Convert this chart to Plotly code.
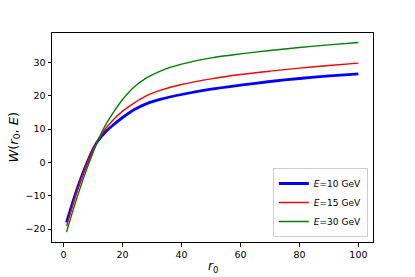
import plotly.graph_objects as go

r0 = [1, 2, 4, 6, 8, 10, 11.3, 14, 17, 20, 24, 28, 33, 40, 50, 60, 70, 80, 90, 100]
W_10 = [-18.0, -15.0, -9.4, -4.4, 0.1, 4.0, 6.1, 9.0, 11.4, 13.5, 15.9, 17.6, 19.0, 20.4, 22.0, 23.2, 24.3, 25.2, 26.0, 26.6]
W_15 = [-19.1, -16.0, -10.2, -4.9, -0.1, 3.8, 6.1, 9.9, 13.0, 15.4, 17.9, 20.0, 21.7, 23.4, 25.1, 26.4, 27.4, 28.3, 29.1, 29.8]
W_30 = [-20.9, -17.8, -12.0, -6.6, -1.6, 3.0, 5.9, 10.9, 15.2, 18.9, 22.7, 25.3, 27.5, 29.5, 31.4, 32.6, 33.6, 34.5, 35.3, 36.0]

labels = ["<i>E</i>=10 GeV", "<i>E</i>=15 GeV", "<i>E</i>=30 GeV"]
colors = ["blue", "red", "green"]
widths = [2.8, 1.4, 1.4]
series = [W_10, W_15, W_30]

x_ticks = [0, 20, 40, 60, 80, 100]
y_ticks = [-20, -10, 0, 10, 20, 30]

fig = go.Figure()
for ys, lab, c, w in zip(series, labels, colors, widths):
    fig.add_trace(go.Scatter(x=r0, y=ys, mode="lines", name=lab,
                             line=dict(color=c, width=w, shape="spline", smoothing=0.8)))

axis_common = dict(showgrid=False, zeroline=False, showline=True, linecolor="black",
                   linewidth=1, mirror=True, ticks="outside", ticklen=3.5,
                   tickcolor="black", tickwidth=1, automargin=False,
                   tickfont=dict(family="DejaVu Sans", size=9.5, color="black"))

fig.update_layout(
    width=415, height=277,
    margin=dict(l=52, r=42, t=33, b=35),
    paper_bgcolor="white", plot_bgcolor="white",
    font=dict(family="DejaVu Sans", color="black"),
    xaxis=dict(range=[-3.95, 104.95], tickvals=x_ticks, **axis_common),
    yaxis=dict(range=[-23.85, 38.85], tickvals=y_ticks, **axis_common),
    legend=dict(x=0.984, y=0.024, xanchor="right", yanchor="bottom",
                bgcolor="white", bordercolor="#cccccc", borderwidth=1,
                font=dict(size=9, family="DejaVu Sans"), tracegroupgap=0,
                itemwidth=30),
    showlegend=True,
    annotations=[
        dict(text="<i>r</i><sub>0</sub>", xref="paper", yref="paper", x=0.5, y=-0.07,
             xanchor="center", yanchor="top", showarrow=False, font=dict(size=12)),
        dict(text="<i>W</i>(<i>r</i><sub>0</sub>, <i>E</i>)", xref="paper", yref="paper",
             x=-0.118, y=0.5, xanchor="center", yanchor="middle", textangle=-90,
             showarrow=False, font=dict(size=13)),
    ],
)

fig.write_html("out.html", config={"displayModeBar": False},
               post_script="document.body.style.margin='0';document.body.style.overflow='hidden';")
